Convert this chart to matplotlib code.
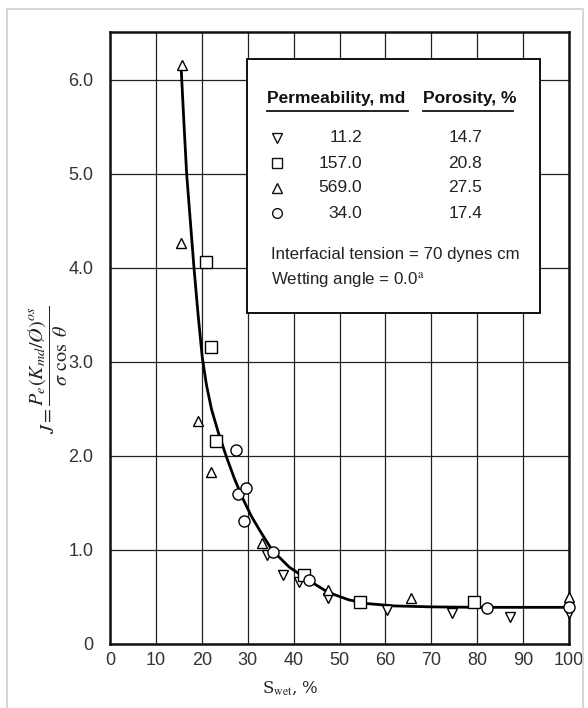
import matplotlib
matplotlib.use("Agg")
import matplotlib.pyplot as plt
from matplotlib.lines import Line2D
from matplotlib.patches import Rectangle

plt.rcParams['font.family'] = ['Liberation Sans Narrow', 'Liberation Sans', 'DejaVu Sans']
plt.rcParams['mathtext.fontset'] = 'stix'

# ---- data ----
tri_down_x = [34.2, 37.7, 41.2, 47.5, 60.3, 74.5, 87.1, 100.0]
tri_down_y = [0.95, 0.73, 0.66, 0.49, 0.36, 0.33, 0.29, 0.33]

square_x = [20.9, 22.0, 23.1, 42.3, 54.5, 79.3]
square_y = [4.06, 3.16, 2.16, 0.73, 0.45, 0.45]

tri_up_x = [15.7, 15.5, 19.2, 22.0, 33.1, 47.5, 65.6, 100.0]
tri_up_y = [6.16, 4.27, 2.37, 1.83, 1.07, 0.57, 0.49, 0.50]

circle_x = [27.4, 27.9, 29.6, 29.2, 35.5, 43.4, 82.1, 100.0]
circle_y = [2.06, 1.60, 1.66, 1.31, 0.98, 0.68, 0.38, 0.39]

curve_x = [15.5, 16.1, 16.7, 17.5, 18.3, 19.2, 20.1, 21.0, 22.1, 23.6, 25.3,
           27.1, 29.0, 30.8, 32.6, 35.3, 39.0, 43.2, 47.5, 52.0, 56.0, 62.0,
           70.0, 80.0, 90.0, 100.0]
curve_y = [6.13, 5.55, 5.00, 4.50, 4.00, 3.50, 3.05, 2.76, 2.50, 2.25, 2.00,
           1.76, 1.54, 1.36, 1.21, 1.00, 0.82, 0.68, 0.55, 0.47, 0.43, 0.405,
           0.395, 0.39, 0.39, 0.39]

perm_labels = ['11.2', '157.0', '569.0', '34.0']
poro_labels = ['14.7', '20.8', '27.5', '17.4']
x_ticks = [0, 10, 20, 30, 40, 50, 60, 70, 80, 90, 100]
y_ticks = [0, 1, 2, 3, 4, 5, 6]
y_ticklabels = ['0', '1.0', '2.0', '3.0', '4.0', '5.0', '6.0']

W, H = 588, 708
fig = plt.figure(figsize=(W / 100, H / 100), dpi=100)

def fx(px):
    return px / W

def fy(py):
    return 1 - py / H

# outer light frame
fig.add_artist(Rectangle((fx(7), fy(716)), fx(583) - fx(7), fy(9) - fy(716),
                         transform=fig.transFigure, fill=False,
                         edgecolor='#cfcfcf', linewidth=1.2))

ax = fig.add_axes([fx(110), fy(644), fx(569) - fx(110), fy(32) - fy(644)])
ax.set_xlim(0, 100)
ax.set_ylim(0, (644 - 32) / 94)
ax.set_xticks(x_ticks)
ax.set_yticks(y_ticks)
ax.set_yticklabels(y_ticklabels)
ax.tick_params(length=0, labelsize=13, labelcolor='#333333')
ax.tick_params(axis='y', pad=12)
ax.tick_params(axis='x', pad=6)
ax.grid(True, color='#222222', linewidth=0.9)
ax.set_axisbelow(True)
for s in ax.spines.values():
    s.set_linewidth(1.8)
    s.set_color('#111111')

ax.plot(curve_x, curve_y, color='black', linewidth=2.0, zorder=3,
        solid_joinstyle='round', solid_capstyle='round')

mk = dict(linestyle='none', markerfacecolor='white', markeredgecolor='black',
          markeredgewidth=1.0, zorder=4, clip_on=False)
ax.plot(tri_down_x, tri_down_y, marker='v', markersize=7.5, **mk)
ax.plot(square_x, square_y, marker='s', markersize=8, **mk)
ax.plot(tri_up_x, tri_up_y, marker='^', markersize=7.5, **mk)
ax.plot(circle_x, circle_y, marker='o', markersize=8, **mk)

# legend box
fig.add_artist(Rectangle((fx(247), fy(313)), fx(540) - fx(247), fy(59) - fy(313),
                         transform=fig.transFigure, facecolor='white',
                         edgecolor='#111111', linewidth=1.4, zorder=5))
fig.text(fx(267), fy(98), 'Permeability, md', fontsize=12.5, fontweight='bold',
         ha='left', va='center', color='#111111', zorder=6)
fig.text(fx(423), fy(98), 'Porosity, %', fontsize=12.5, fontweight='bold',
         ha='left', va='center', color='#111111', zorder=6)
fig.add_artist(Line2D([fx(267), fx(408)], [fy(111), fy(111)], color='#111111',
                      linewidth=1.3, transform=fig.transFigure, zorder=6))
fig.add_artist(Line2D([fx(423), fx(513)], [fy(111), fy(111)], color='#111111',
                      linewidth=1.3, transform=fig.transFigure, zorder=6))
row_y = [138, 163, 188, 213]
row_markers = ['v', 's', '^', 'o']
for yy, m, p, q in zip(row_y, row_markers, perm_labels, poro_labels):
    fig.add_artist(Line2D([fx(277)], [fy(yy)], marker=m, markersize=7,
                          markerfacecolor='white', markeredgecolor='#111111',
                          markeredgewidth=1.0, linestyle='none',
                          transform=fig.transFigure, zorder=6))
    fig.text(fx(362), fy(yy), p, fontsize=12.5, ha='right', va='center',
             color='#222222', zorder=6)
    fig.text(fx(482), fy(yy), q, fontsize=12.5, ha='right', va='center',
             color='#222222', zorder=6)
fig.text(fx(271), fy(255), 'Interfacial tension = 70 dynes cm', fontsize=12.2,
         ha='left', va='center', color='#222222', zorder=6)
fig.text(fx(271), fy(280), 'Wetting angle = 0.0$^{\\mathrm{a}}$', fontsize=12.2,
         ha='left', va='center', color='#222222', zorder=6)

# axis labels
fig.text(fx(48), fy(370),
         r'$J=\dfrac{P_e(K_{md}/\O)^{os}}{\sigma\ \cos\ \theta}$',
         rotation=90, fontsize=14.5, ha='center', va='center', color='#222222')
fig.text(fx(290), fy(688), r'S$_{\mathrm{wet}}$, %', family='DejaVu Serif',
         fontsize=12, ha='center', va='center', color='#222222')

fig.savefig('out.png', dpi=100)
